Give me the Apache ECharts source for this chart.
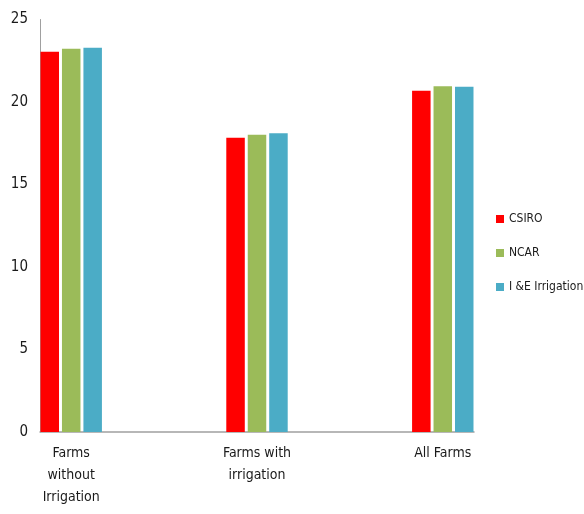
<!DOCTYPE html>
<html>
<head>
<meta charset="utf-8">
<script src="https://cdn.jsdelivr.net/npm/echarts@6/dist/echarts.min.js"></script>
<style>
  html, body { margin: 0; padding: 0; background: #fff; }
  #chart { width: 584px; height: 514px; }
</style>
</head>
<body>
<div id="chart"></div>
<script>
// Farm groups along the horizontal axis
const categories = ['Farms\nwithout\nIrrigation', 'Farms with\nirrigation', 'All Farms'];

// Values per climate scenario
const csiro = [23.05, 17.84, 20.68];
const ncar = [23.23, 18.02, 20.95];
const ieIrrigation = [23.29, 18.10, 20.93];

const seriesNames = ['CSIRO', 'NCAR', 'I &E Irrigation'];
const colors = ['#ff0000', '#9bbb59', '#4bacc6'];

const yTicks = { min: 0, max: 25, step: 5 };

const font = "'Liberation Sans Narrow', 'DejaVu Sans Condensed', sans-serif";

// Pair each value with its category index so bars sit on a value axis
const toPoints = arr => arr.map((v, i) => [i, v]);

const chart = echarts.init(document.getElementById('chart'), null, { renderer: 'canvas' });

chart.setOption({
  animation: false,
  backgroundColor: '#ffffff',
  textStyle: { fontFamily: font },
  grid: { left: 40, right: 110, top: 19.5, bottom: 82, containLabel: false },
  legend: {
    orient: 'vertical',
    left: 491,
    top: 208,
    itemWidth: 8,
    itemHeight: 8,
    itemGap: 22,
    itemStyle: { borderWidth: 0 },
    icon: 'rect',
    textStyle: { fontFamily: font, fontSize: 12, color: '#1a1a1a' },
    data: seriesNames
  },
  xAxis: {
    type: 'value',
    min: -0.168,
    max: 2.168,
    splitLine: { show: false },
    axisTick: { show: false },
    axisLine: { show: true, onZero: false, lineStyle: { color: '#a0a0a0', width: 1.5 } },
    axisLabel: {
      customValues: [0, 1, 2],
      formatter: v => categories[Math.round(v)],
      fontFamily: font,
      fontSize: 14,
      lineHeight: 22,
      color: '#1a1a1a',
      margin: 10
    }
  },
  yAxis: {
    type: 'value',
    min: yTicks.min,
    max: yTicks.max,
    interval: yTicks.step,
    splitLine: { show: false },
    axisTick: { show: false },
    axisLine: { show: true, onZero: false, lineStyle: { color: '#a0a0a0', width: 1 } },
    axisLabel: { fontFamily: font, fontSize: 15, color: '#1a1a1a', margin: 12 }
  },
  series: [
    { name: seriesNames[0], type: 'bar', data: toPoints(csiro), itemStyle: { color: colors[0] }, barWidth: 18.5, barGap: '16%' },
    { name: seriesNames[1], type: 'bar', data: toPoints(ncar), itemStyle: { color: colors[1] }, barWidth: 18.5, barGap: '16%' },
    { name: seriesNames[2], type: 'bar', data: toPoints(ieIrrigation), itemStyle: { color: colors[2] }, barWidth: 18.5, barGap: '16%' }
  ]
});
</script>
</body>
</html>
